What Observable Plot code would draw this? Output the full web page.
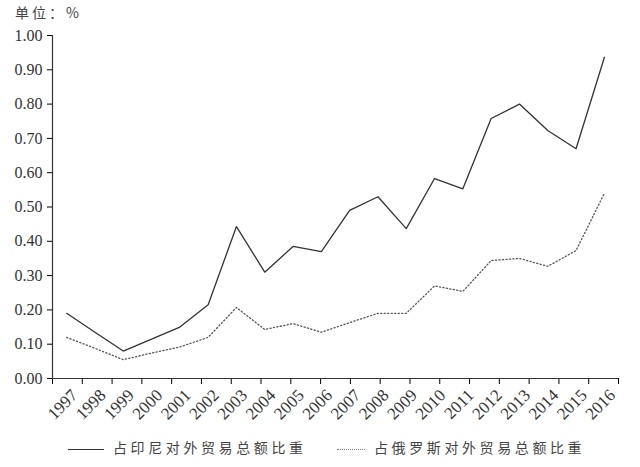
<!DOCTYPE html>
<html>
<head>
<meta charset="utf-8">
<script src="https://cdn.jsdelivr.net/npm/d3@7"></script>
<script src="https://cdn.jsdelivr.net/npm/@observablehq/plot@0.6"></script>
<style>
  html, body { margin: 0; padding: 0; background: #fff; }
  #wrap { width: 640px; height: 467px; position: relative; overflow: hidden; }
  #title { height: 24px; line-height: 24px; padding-left: 15px; font-family: "Noto Sans CJK SC", sans-serif; font-size: 14px; letter-spacing: 3px; color: #444; }
  #legend { height: 37px; position: relative; font-family: "Noto Sans CJK SC", sans-serif; font-size: 14px; letter-spacing: 3.6px; color: #444; }
  .item { position: absolute; top: 0; height: 34px; line-height: 34px; white-space: nowrap; }
  .swatch { display: inline-block; vertical-align: middle; margin-right: 9px; }
  #chart svg text { font-family: "Liberation Serif" !important; font-size: 16px !important; fill: #333 !important; }
  #chart svg g.xlabels text { font-size: 17px !important; }
</style>
</head>
<body>
<div id="wrap">
  <div id="title"></div>
  <div id="chart"></div>
  <div id="legend"></div>
</div>
<script>
const unitLabel = "单位：%";
const years = [1997, 1998, 1999, 2000, 2001, 2002, 2003, 2004, 2005, 2006, 2007, 2008, 2009, 2010, 2011, 2012, 2013, 2014, 2015, 2016];
const seriesNames = ["占印尼对外贸易总额比重", "占俄罗斯对外贸易总额比重"];
const indonesia = [0.19, 0.135, 0.08, 0.115, 0.15, 0.215, 0.443, 0.31, 0.385, 0.37, 0.49, 0.53, 0.437, 0.583, 0.553, 0.758, 0.80, 0.723, 0.67, 0.936];
const russia = [0.12, 0.088, 0.055, 0.074, 0.092, 0.12, 0.207, 0.143, 0.16, 0.135, 0.163, 0.19, 0.19, 0.27, 0.254, 0.344, 0.35, 0.327, 0.373, 0.54];
const yTicks = [0, 0.1, 0.2, 0.3, 0.4, 0.5, 0.6, 0.7, 0.8, 0.9, 1.0];

const xDomain = [years[0] - 0.5, years[years.length - 1] + 0.5];
// tick marks: 20 evenly spaced marks spanning the axis (as in the source figure)
const tickEdges = d3.range(years.length).map(k => xDomain[0] + k * (xDomain[1] - xDomain[0]) / (years.length - 1));

const indoData = years.map((y, i) => ({year: y, value: indonesia[i]}));
const rusData = years.map((y, i) => ({year: y, value: russia[i]}));

const chart = Plot.plot({
  width: 640,
  height: 406,
  marginLeft: 52,
  marginRight: 22,
  marginTop: 11,
  marginBottom: 52,
  x: {domain: xDomain},
  y: {domain: [0, 1]},
  marks: [
    Plot.axisY({ticks: yTicks, tickFormat: d3.format(".2f"), tickSize: 5, tickPadding: 5, label: null}),
    Plot.axisX({ticks: tickEdges, tickFormat: () => "", tickSize: 6, label: null}),
    Plot.axisX({ticks: years, tickFormat: d => String(d), tickSize: 0, tickPadding: 10, tickRotate: -45, label: null, dx: 8, dy: 4, className: "xlabels"}),
    Plot.ruleX([xDomain[0]], {stroke: "#333", strokeWidth: 1.2}),
    Plot.ruleY([0], {stroke: "#333", strokeWidth: 1.2}),
    Plot.line(indoData, {x: "year", y: "value", stroke: "#333", strokeWidth: 1.3}),
    Plot.line(rusData, {x: "year", y: "value", stroke: "#555", strokeWidth: 1.3, strokeDasharray: "1.2,2.3"})
  ]
});
document.getElementById("chart").appendChild(chart);
document.getElementById("title").textContent = unitLabel;

const legend = document.getElementById("legend");
const legendItems = [
  {name: seriesNames[0], left: 68, w: 36, style: "border-top:1.5px solid #333"},
  {name: seriesNames[1], left: 337, w: 28, style: "border-top:1.5px dotted #777"}
];
for (const it of legendItems) {
  const d = document.createElement("div");
  d.className = "item";
  d.style.left = it.left + "px";
  const sw = document.createElement("span");
  sw.className = "swatch";
  sw.style.cssText = `width:${it.w}px;height:0;${it.style}`;
  d.appendChild(sw);
  d.appendChild(document.createTextNode(it.name));
  legend.appendChild(d);
}
</script>
</body>
</html>
